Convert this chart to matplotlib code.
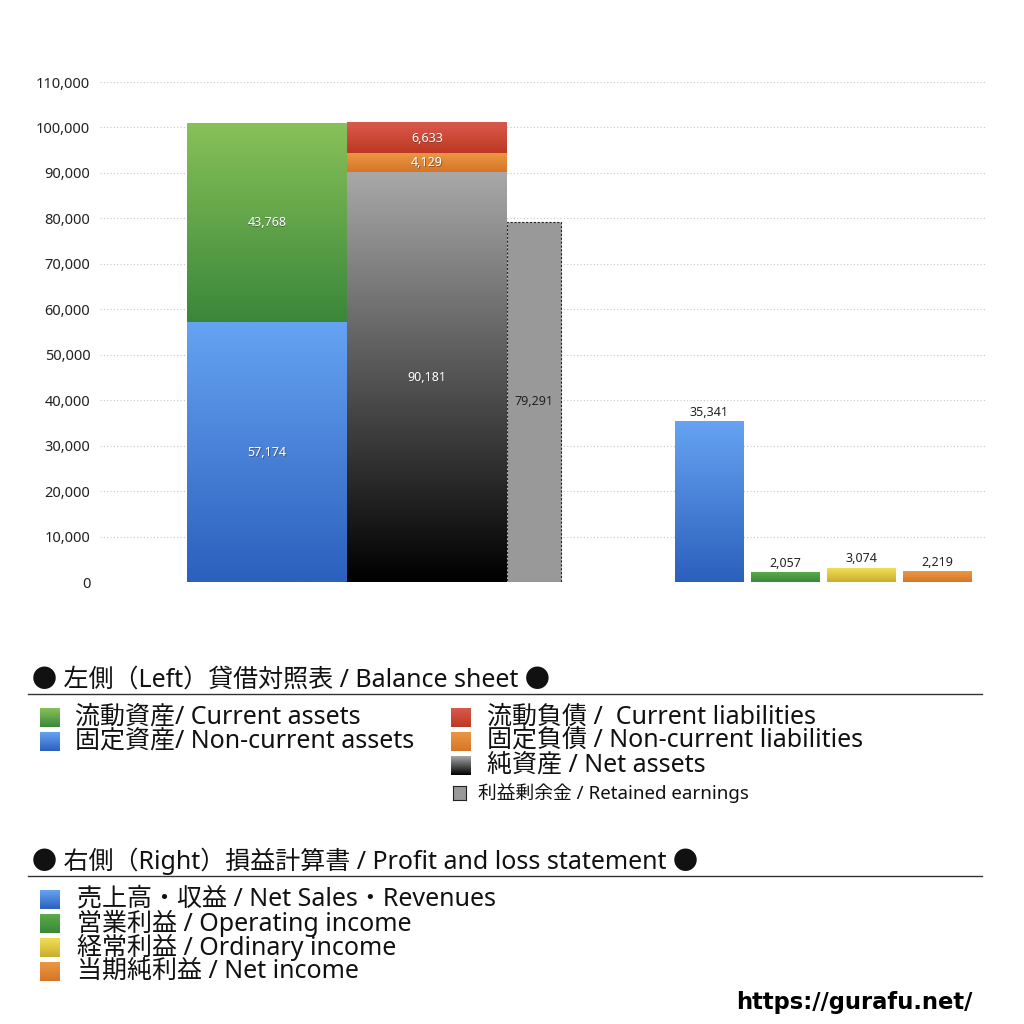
import numpy as np
import matplotlib
matplotlib.use('Agg')
import matplotlib.pyplot as plt
from matplotlib.colors import LinearSegmentedColormap
from matplotlib.ticker import FuncFormatter

plt.rcParams['font.family'] = ['Noto Sans', 'Noto Sans CJK JP', 'DejaVu Sans']

# ---- data ----
current_assets = 43768
noncurrent_assets = 57174
current_liab = 6633
noncurrent_liab = 4129
net_assets = 90181
retained = 79291
pl_labels = ['売上高・収益 / Net Sales・Revenues', '営業利益 / Operating income',
             '経常利益 / Ordinary income', '当期純利益 / Net income']
pl_values = [35341, 2057, 3074, 2219]
yticks = list(range(0, 110001, 10000))

# colours (top, bottom) of each gradient
c_blue = ('#66a3f2', '#2b60bd')
c_green = ('#88c158', '#3a873a')
c_red = ('#d95a4d', '#bd3822')
c_orange = ('#eb9742', '#d67528')
c_black = ('#a8a8a8', '#000000')
c_yellow = ('#f2de55', '#c9ad2e')
c_green2 = ('#5aab4a', '#3a873a')
c_orange2 = ('#eb9742', '#d67528')
pl_colors = [c_blue, c_green2, c_yellow, c_orange2]


def grad_img(ax, extent, cols):
    cmap = LinearSegmentedColormap.from_list('g', [cols[1], cols[0]])
    g = np.linspace(0, 1, 256).reshape(-1, 1)
    ax.imshow(g, cmap=cmap, extent=extent, origin='lower', aspect='auto', zorder=2)


def grad_bar(ax, x, height, width, cols, bottom=0):
    ax.bar(x, height, width, bottom=bottom, color='none', linewidth=0)
    grad_img(ax, [x - width / 2, x + width / 2, bottom, bottom + height], cols)


def in_label(ax, x, y, val, color='white'):
    ax.text(x + 0.6, y - 250, f'{val:,}', ha='center', va='center', fontsize=9,
            color='#444444', zorder=4, alpha=0.6)
    ax.text(x, y, f'{val:,}', ha='center', va='center', fontsize=9, color=color, zorder=5)


fig = plt.figure(figsize=(10.24, 10.24), dpi=100)
W = H = 1024.0
ax = fig.add_axes([100 / W, 1 - 582 / H, 885 / W, 500 / H])

# left group (balance sheet)
xa, xl, xr = 167, 327, 434
wa, wr = 160, 54
grad_bar(ax, xa, noncurrent_assets, wa, c_blue)
grad_bar(ax, xa, current_assets, wa, c_green, bottom=noncurrent_assets)
grad_bar(ax, xl, net_assets, wa, c_black)
grad_bar(ax, xl, noncurrent_liab, wa, c_orange, bottom=net_assets)
grad_bar(ax, xl, current_liab, wa, c_red, bottom=net_assets + noncurrent_liab)
ax.bar(xr, retained, wr, color='#999999', edgecolor='#222222', linestyle=(0, (2, 1.5)),
       linewidth=0.8, zorder=2)

in_label(ax, xa, noncurrent_assets / 2, noncurrent_assets)
in_label(ax, xa, noncurrent_assets + current_assets / 2, current_assets)
in_label(ax, xl, net_assets / 2, net_assets)
in_label(ax, xl, net_assets + noncurrent_liab / 2, noncurrent_liab)
in_label(ax, xl, net_assets + noncurrent_liab + current_liab / 2, current_liab)
ax.text(xr, retained / 2, f'{retained:,}', ha='center', va='center', fontsize=9,
        color='#222222', zorder=5)

# right group (P/L)
px = [609.5, 685.5, 761.5, 837.5]
for x, v, c in zip(px, pl_values, pl_colors):
    grad_bar(ax, x, v, 69, c)
    ax.text(x, v + 600, f'{v:,}', ha='center', va='bottom', fontsize=9, color='#222222')

ax.set_xlim(0, 885)
ax.set_ylim(0, 110000)
ax.set_yticks(yticks)
ax.yaxis.set_major_formatter(FuncFormatter(lambda v, p: f'{int(v):,}'))
ax.tick_params(axis='y', length=0, labelsize=10.5, labelcolor='#222222', pad=7)
ax.set_xticks([])
ax.grid(axis='y', color='#c8c8c8', linestyle=(0, (1, 2)), linewidth=0.8, zorder=0)
ax.set_axisbelow(True)
for s in ax.spines.values():
    s.set_visible(False)


# ---- legend area ----
def fx(px_):
    return px_ / W


def fy(py):
    return 1 - py / H


def legend_square(x0, y0, w, h, cols, dotted=False):
    a = fig.add_axes([fx(x0), fy(y0 + h), w / W, h / H])
    if dotted:
        a.set_facecolor('#999999')
        a.set_xticks([])
        a.set_yticks([])
        for s in a.spines.values():
            s.set_linestyle((0, (1.5, 1)))
            s.set_linewidth(0.8)
            s.set_color('#222222')
    else:
        grad_img(a, [0, 1, 0, 1], cols)
        a.set_xlim(0, 1)
        a.set_ylim(0, 1)
        a.axis('off')


fs_title = 18
fs_item = 18

fig.text(fx(32), fy(680), '● 左側（Left）貸借対照表 / Balance sheet ●', fontsize=fs_title,
         va='center', ha='left', color='#111111')
fig.add_artist(plt.Line2D([fx(28), fx(982)], [fy(694), fy(694)], color='#333333', lw=1))

left_items = [('流動資産/ Current assets', c_green), ('固定資産/ Non-current assets', c_blue)]
for i, (t, c) in enumerate(left_items):
    y = 717 + 24 * i
    legend_square(40, y - 9, 20, 19, c)
    fig.text(fx(75), fy(y), t, fontsize=fs_item, va='center', ha='left', color='#111111')

right_items = [('流動負債 /  Current liabilities', c_red),
               ('固定負債 / Non-current liabilities', c_orange),
               ('純資産 / Net assets', c_black)]
for i, (t, c) in enumerate(right_items):
    y = 717 + 24 * i
    legend_square(451, y - 9, 20, 19, c)
    fig.text(fx(487), fy(y), t, fontsize=fs_item, va='center', ha='left', color='#111111')

legend_square(453, 786, 13, 14, None, dotted=True)
fig.text(fx(478), fy(793), '利益剰余金 / Retained earnings', fontsize=13.5,
         va='center', ha='left', color='#111111')

fig.text(fx(32), fy(861), '● 右側（Right）損益計算書 / Profit and loss statement ●',
         fontsize=fs_title, va='center', ha='left', color='#111111')
fig.add_artist(plt.Line2D([fx(28), fx(982)], [fy(876), fy(876)], color='#333333', lw=1))

for i, (t, c) in enumerate(zip(pl_labels, pl_colors)):
    y = 899 + 24 * i
    legend_square(40, y - 9, 20, 19, c)
    fig.text(fx(77), fy(y), t, fontsize=fs_item, va='center', ha='left', color='#111111')

fig.text(fx(972), fy(1003), 'https://gurafu.net/', fontsize=16.3, fontweight='bold',
         family='DejaVu Sans', va='center', ha='right', color='#000000')

fig.savefig('out.png', dpi=100, facecolor='white')
